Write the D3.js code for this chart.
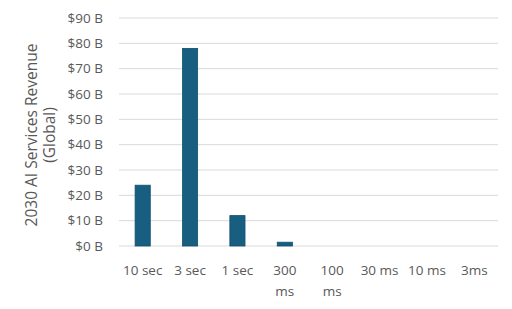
<!DOCTYPE html>
<html>
<head>
<meta charset="utf-8">
<script src="https://cdn.jsdelivr.net/npm/d3@7"></script>
<style>
  body { margin: 0; background: #fff; }
  text { font-family: "Open Sans", sans-serif; fill: #595959; }
</style>
</head>
<body>
<div id="chart"></div>
<script>
var categories = ["10 sec", "3 sec", "1 sec", "300\nms", "100\nms", "30 ms", "10 ms", "3ms"];
var revenue = [24, 78, 12, 1.5, 0, 0, 0, 0];
var yTicks = [0, 10, 20, 30, 40, 50, 60, 70, 80, 90];

var margin = {top: 18, right: 14, bottom: 63, left: 119};
var width = 512 - margin.left - margin.right;
var height = 309 - margin.top - margin.bottom;

var svg = d3.select("#chart").append("svg")
    .attr("width", 512)
    .attr("height", 309);

var g = svg.append("g")
    .attr("transform", "translate(" + margin.left + "," + margin.top + ")");

var x = d3.scaleBand()
    .domain(categories)
    .range([0, width])
    .paddingInner(0.68)
    .paddingOuter(0.34);

var y = d3.scaleLinear()
    .domain([0, 90])
    .range([height, 0]);

// gridlines
g.append("g")
    .selectAll("line")
    .data(yTicks)
    .enter().append("line")
    .attr("x1", 0)
    .attr("x2", width)
    .attr("y1", function(d) { return y(d); })
    .attr("y2", function(d) { return y(d); })
    .style("stroke", "#d9d9d9")
    .style("stroke-width", 1);

var axisY = d3.axisLeft(y)
    .tickValues(yTicks)
    .tickSize(0)
    .tickPadding(16)
    .tickFormat(function(d) { return "$" + d + " B"; });

g.append("g")
    .attr("class", "axis axis--y")
    .call(axisY)
    .call(function(a) { a.select(".domain").remove(); })
    .selectAll("text")
    .style("font-size", "13.5px")
    .style("font-family", "\"Open Sans\", sans-serif")
    .attr("fill", "#595959");

g.selectAll(".bar")
    .data(revenue)
    .enter().append("rect")
    .attr("class", "bar")
    .attr("x", function(d, i) { return x(categories[i]); })
    .attr("width", x.bandwidth())
    .attr("y", function(d) { return y(d); })
    .attr("height", function(d) { return height - y(d); })
    .style("fill", "#175e80")
    .style("stroke", d3.color("#175e80").darker(0.5))
    .style("stroke-width", 0.8);

// x labels, wrapped on "\n"
var xl = g.append("g")
    .selectAll("text")
    .data(categories)
    .enter().append("text")
    .attr("text-anchor", "middle")
    .attr("transform", function(d) {
        return "translate(" + (x(d) + x.bandwidth() / 2) + "," + (height + 29) + ")";
    })
    .style("font-size", "13.5px");

xl.each(function(d) {
    var t = d3.select(this);
    d.split("\n").forEach(function(part, k) {
        t.append("tspan")
            .attr("x", 0)
            .attr("dy", k === 0 ? 0 : 21)
            .text(part);
    });
});

// y title
svg.append("text")
    .attr("transform", "translate(37," + (margin.top + height / 2 + 3) + ") rotate(-90)")
    .attr("text-anchor", "middle")
    .style("font-size", "15.5px")
    .text("2030 AI Services Revenue");

svg.append("text")
    .attr("transform", "translate(55," + (margin.top + height / 2 + 3) + ") rotate(-90)")
    .attr("text-anchor", "middle")
    .style("font-size", "15.5px")
    .text("(Global)");
</script>
</body>
</html>
